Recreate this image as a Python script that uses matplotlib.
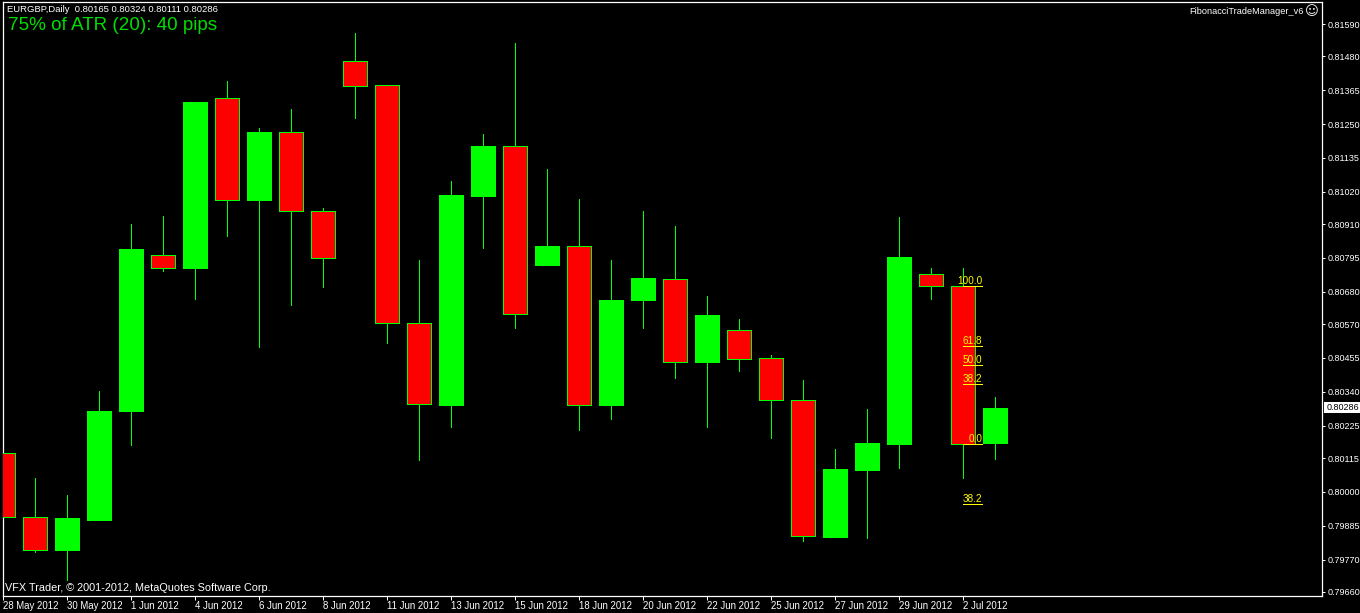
import matplotlib
matplotlib.use("Agg")
import matplotlib.pyplot as plt

# daily candles, oldest first
opens = [0.80133, 0.79915, 0.79803, 0.79905, 0.80275, 0.80805, 0.80761, 0.81339, 0.80992, 0.81223, 0.80955,
         0.81464, 0.81383, 0.80574, 0.80295, 0.81006, 0.81175, 0.80771, 0.80836, 0.80295, 0.80652,
         0.80723, 0.80441, 0.80550, 0.80455, 0.80312, 0.79847, 0.80074, 0.80163, 0.80740, 0.80700, 0.80165]
closes = [0.79915, 0.79803, 0.79911, 0.80275, 0.80825, 0.80761, 0.81325, 0.80992, 0.81223, 0.80955, 0.80795,
          0.81379, 0.80574, 0.80299, 0.81009, 0.81175, 0.80605, 0.80836, 0.80295, 0.80652, 0.80727,
          0.80441, 0.80601, 0.80452, 0.80312, 0.79850, 0.80078, 0.80166, 0.80798, 0.80700, 0.80163, 0.80286]
highs = [0.80363, 0.80047, 0.79990, 0.80343, 0.80910, 0.80938, 0.81325, 0.81396, 0.81237, 0.81301, 0.80965,
         0.81559, 0.81383, 0.80788, 0.81057, 0.81216, 0.81525, 0.81097, 0.80994, 0.80788, 0.80955,
         0.80904, 0.80666, 0.80588, 0.80465, 0.80380, 0.80146, 0.80282, 0.80934, 0.80761, 0.80761, 0.80324]
lows = [0.79820, 0.79796, 0.79701, 0.79905, 0.80159, 0.80751, 0.80656, 0.80870, 0.80492, 0.80635, 0.80696,
        0.81271, 0.80506, 0.80108, 0.80221, 0.80829, 0.80557, 0.80771, 0.80210, 0.80248, 0.80557,
        0.80387, 0.80221, 0.80411, 0.80183, 0.79833, 0.79847, 0.79843, 0.80081, 0.80656, 0.80047, 0.80111]

date_labels = ["28 May 2012", "30 May 2012", "1 Jun 2012", "4 Jun 2012", "6 Jun 2012", "8 Jun 2012",
               "11 Jun 2012", "13 Jun 2012", "15 Jun 2012", "18 Jun 2012", "20 Jun 2012", "22 Jun 2012",
               "25 Jun 2012", "27 Jun 2012", "29 Jun 2012", "2 Jul 2012"]
price_ticks = [0.81590, 0.81480, 0.81365, 0.81250, 0.81135, 0.81020, 0.80910, 0.80795, 0.80680,
               0.80570, 0.80455, 0.80340, 0.80225, 0.80115, 0.80000, 0.79885, 0.79770, 0.79660]
last_price = 0.80286

fib_labels = ["100.0", "61.8", "50.0", "38.2", "0.0", "38.2"]
fib_prices = [0.80700, 0.80495, 0.80432, 0.80368, 0.80163, 0.79958]

W, H = 1360, 613
GREEN = "#00ff00"
RED = "#ff0000"
YELLOW = "#ffff00"
FONT = "Liberation Sans"

fig = plt.figure(figsize=(W / 100, H / 100), dpi=100, facecolor="black")
ax = fig.add_axes([3 / W, (H - 596) / H, 1319 / W, 594 / H], facecolor="black")
ax.set_xlim(0, 1319 / 32)
ax.set_ylim(0.79646, 0.81665)

xs = list(range(len(opens)))
ax.vlines(xs, lows, highs, color=GREEN, lw=0.72, zorder=2, antialiased=False)
for x, o, c in zip(xs, opens, closes):
    if c >= o:
        ax.bar(x, c - o, bottom=o, width=0.78, color=GREEN, edgecolor=GREEN, lw=0.72, zorder=3, antialiased=False)
    else:
        ax.bar(x, o - c, bottom=c, width=0.78, color=RED, edgecolor=GREEN, lw=0.72, zorder=3, antialiased=False)

# fibonacci levels on the last swing
ax.hlines(fib_prices, 30, 30.6, color=YELLOW, lw=0.72, zorder=4, antialiased=False)
for lab, p in zip(fib_labels, fib_prices):
    ax.annotate(lab, (30.6, p), xytext=(0, 0), textcoords="offset pixels", ha="right", va="bottom",
                color=YELLOW, fontsize=7.2, family=FONT, zorder=5)

for s in ax.spines.values():
    s.set_color("white")
    s.set_linewidth(0.9)

ax.yaxis.tick_right()
ax.set_yticks(price_ticks)
ax.set_yticklabels(["%.5f" % p for p in price_ticks], color="white", fontsize=6.5, family=FONT)
ax.tick_params(axis="y", color="white", length=2.2, width=0.72, pad=1.8)
ax.set_xticks(xs[::2])
ax.set_xticklabels(date_labels, color="white", fontsize=6.9, family=FONT, ha="left")
ax.tick_params(axis="x", color="white", length=3.2, width=0.72, pad=0.4)


def label(px, py, s, **kw):
    fig.text(px / W, 1 - py / H, s, **kw)


# current price flag
fig.patches.append(plt.Rectangle((1324 / W, (H - 413) / H), 36 / W, 11 / H, transform=fig.transFigure,
                                 facecolor="white", edgecolor="none", zorder=5))
label(1327, 408, "%.5f" % last_price, color="black", fontsize=6.5, family=FONT, va="center", zorder=6)

label(7, 10, "EURGBP,Daily  0.80165 0.80324 0.80111 0.80286", color="white", fontsize=6.8, family=FONT, va="center")
label(8, 25, "75% of ATR (20): 40 pips", color="#00dd00", fontsize=13.6, family=FONT, va="center")
label(1304, 12, "FibonacciTradeManager_v6", color="white", fontsize=6.6, family=FONT, ha="right", va="center")
label(1305, 12, "☺", color="white", fontsize=9.5, family="DejaVu Sans", va="center")
label(5, 588, "VFX Trader, © 2001-2012, MetaQuotes Software Corp.", color="white", fontsize=7.8, family=FONT, va="center")

fig.savefig("out.png", dpi=100, facecolor="black")
